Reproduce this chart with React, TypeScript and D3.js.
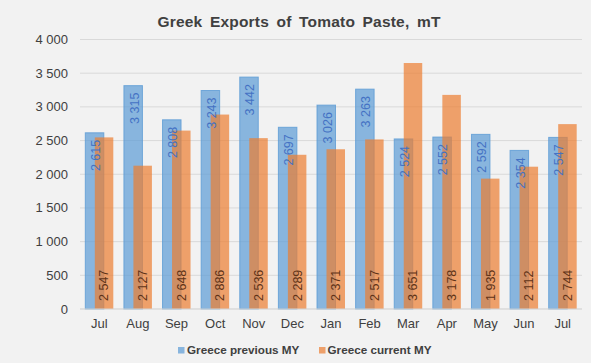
import React from "react";
import * as d3 from "d3";

const months = ["Jul", "Aug", "Sep", "Oct", "Nov", "Dec", "Jan", "Feb", "Mar", "Apr", "May", "Jun", "Jul"];
const previousMY = [2615, 3315, 2808, 3243, 3442, 2697, 3026, 3263, 2524, 2552, 2592, 2354, 2547];
const currentMY = [2547, 2127, 2648, 2886, 2536, 2289, 2371, 2517, 3651, 3178, 1935, 2112, 2744];
const yTicks = [0, 500, 1000, 1500, 2000, 2500, 3000, 3500, 4000];
const seriesNames = ["Greece previous MY", "Greece current MY"];

const W = 591;
const H = 363;
const FONT = "'Liberation Sans', Arial, sans-serif";

const locale = d3.formatLocale({ decimal: ",", thousands: "\u00a0", grouping: [3], currency: ["", ""] });
const fmt = locale.format(",d");

export default function App() {
  const left = 80;
  const right = 582;
  const y = d3.scaleLinear().domain([0, 4000]).range([309, 39.5]);
  const x = d3.scaleBand<number>().domain(months.map((_, i) => i)).range([left, right]).paddingInner(0).paddingOuter(0);
  const bw = 18.5;
  const off = 4.75;
  const cx = (i: number) => (x(i) as number) + x.bandwidth() / 2;

  const blueFill = "#5B9BD5";
  const orangeFill = "#ED7D31";

  return (
    <svg width={W} height={H} style={{ position: "absolute", left: 0, top: 0, display: "block" }} fontFamily={FONT}>
      <rect x={0} y={0} width={W} height={H} fill="#F2F2F2" />
      <text x={299} y={27} textAnchor="middle" fontSize={15.5} fontWeight="bold" fill="#404040" style={{ wordSpacing: "3px", letterSpacing: "0.2px" }}>
        Greek Exports of Tomato Paste, mT
      </text>
      {yTicks.map((t) => (
        <g key={t}>
          <line x1={left} x2={right} y1={y(t)} y2={y(t)} stroke="#D9D9D9" strokeWidth={1} />
          <text x={68} y={y(t)} dy="0.35em" textAnchor="end" fontSize={13} fill="#404040">
            {fmt(t)}
          </text>
        </g>
      ))}
      {months.map((m, i) => (
        <text key={"m" + i} x={cx(i)} y={328} textAnchor="middle" fontSize={13} fill="#404040">
          {m}
        </text>
      ))}
      {previousMY.map((v, i) => (
        <rect key={"b" + i} x={cx(i) - off - bw / 2} y={y(v)} width={bw} height={y(0) - y(v)} fill={blueFill} fillOpacity={0.7} stroke={blueFill} strokeOpacity={0.8} strokeWidth={1} />
      ))}
      {currentMY.map((v, i) => (
        <rect key={"o" + i} x={cx(i) + off - bw / 2} y={y(v)} width={bw} height={y(0) - y(v)} fill={orangeFill} fillOpacity={0.7} />
      ))}
      {previousMY.map((v, i) => {
        const lx = cx(i) - off + 1;
        const ly = y(v) + 7;
        return (
          <text key={"bl" + i} transform={`translate(${lx},${ly}) rotate(-90)`} dy="0.35em" textAnchor="end" fontSize={12.5} fill="#4472C4">
            {fmt(v)}
          </text>
        );
      })}
      {currentMY.map((v, i) => {
        const lx = cx(i) + off;
        const ly = y(0) - 8;
        return (
          <text key={"ol" + i} transform={`translate(${lx},${ly}) rotate(-90)`} dy="0.35em" textAnchor="start" fontSize={12.5} fill="#5E3318">
            {fmt(v)}
          </text>
        );
      })}
      <line x1={left} x2={right} y1={y(0)} y2={y(0)} stroke="#D9D9D9" strokeWidth={1} />
      <g>
        <rect x={178} y={347} width={6.5} height={6.5} fill={blueFill} fillOpacity={0.7} />
        <text x={187} y={353.5} fontSize={11.7} fontWeight="bold" fill="#404040">{seriesNames[0]}</text>
        <rect x={319} y={347} width={6.5} height={6.5} fill={orangeFill} fillOpacity={0.7} />
        <text x={327.5} y={353.5} fontSize={11.7} fontWeight="bold" fill="#404040">{seriesNames[1]}</text>
      </g>
    </svg>
  );
}
